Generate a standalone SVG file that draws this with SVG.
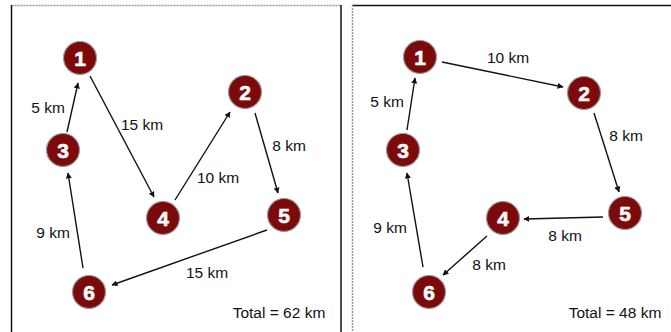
<svg xmlns="http://www.w3.org/2000/svg" width="671" height="332" viewBox="0 0 671 332">
<style>
.node circle{fill:#7d0a0a;stroke:#9a9a9a;stroke-width:1.2}
.node text{font-family:"Liberation Sans",Arial,sans-serif;font-weight:bold;font-size:21px;fill:#fff;stroke:#fff;stroke-width:0.6;text-anchor:middle}
.lbl{font-family:"Liberation Sans",Arial,sans-serif;font-size:15.5px;fill:#111;text-anchor:middle}
.edge{stroke:#111;stroke-width:1.4;fill:none;marker-end:url(#ah)}
</style>
<defs>
<marker id="ah" viewBox="0 0 10 10" refX="9" refY="5" markerWidth="6" markerHeight="6" markerUnits="userSpaceOnUse" orient="auto">
<path d="M0,0 L10,5 L0,10 z" fill="#111"/>
</marker>
</defs>
<rect width="671" height="332" fill="#fff"/>
<g id="frames">
<line x1="11.5" y1="5.5" x2="341" y2="5.5" stroke="#999" stroke-width="1.5" stroke-dasharray="2,1"/>
<line x1="11.5" y1="5" x2="11.5" y2="332" stroke="#111" stroke-width="1.5"/>
<line x1="341" y1="5" x2="341" y2="332" stroke="#111" stroke-width="1.5"/>
<line x1="352" y1="5.5" x2="671" y2="5.5" stroke="#111" stroke-width="1.5"/>
<line x1="352.5" y1="5" x2="352.5" y2="332" stroke="#999" stroke-width="1.5" stroke-dasharray="2,1"/>
</g>
<g id="connectors">
<line class="edge" x1="67" y1="132" x2="78" y2="83"/>
<line class="edge" x1="90" y1="76" x2="154" y2="197"/>
<line class="edge" x1="175" y1="200" x2="230" y2="112"/>
<line class="edge" x1="255" y1="113" x2="278" y2="193"/>
<line class="edge" x1="267" y1="230" x2="112" y2="285"/>
<line class="edge" x1="83" y1="268" x2="68" y2="173"/>
<line class="edge" x1="442" y1="62" x2="563" y2="87"/>
<line class="edge" x1="594" y1="113" x2="619" y2="192"/>
<line class="edge" x1="603" y1="217" x2="524" y2="219"/>
<line class="edge" x1="487" y1="236" x2="443" y2="275"/>
<line class="edge" x1="423" y1="267" x2="407" y2="173"/>
<line class="edge" x1="407" y1="130" x2="415" y2="78"/>
</g>
<g id="labels">
<text class="lbl" x="48" y="113">5 km</text>
<text class="lbl" x="142" y="130">15 km</text>
<text class="lbl" x="218" y="183">10 km</text>
<text class="lbl" x="289" y="151">8 km</text>
<text class="lbl" x="53" y="238">9 km</text>
<text class="lbl" x="207" y="278">15 km</text>
<text class="lbl" x="279" y="318">Total = 62 km</text>
<text class="lbl" x="508" y="63">10 km</text>
<text class="lbl" x="387" y="107">5 km</text>
<text class="lbl" x="626" y="141">8 km</text>
<text class="lbl" x="390" y="233">9 km</text>
<text class="lbl" x="565" y="241">8 km</text>
<text class="lbl" x="489" y="270">8 km</text>
<text class="lbl" x="615" y="318">Total = 48 km</text>
</g>
<g id="L1" class="node"><circle cx="80" cy="58" r="16.5"/><text x="80" y="65.5">1</text></g>
<g id="L2" class="node"><circle cx="245" cy="92" r="16.5"/><text x="245" y="99.5">2</text></g>
<g id="L3" class="node"><circle cx="63" cy="150" r="16.5"/><text x="63" y="157.5">3</text></g>
<g id="L4" class="node"><circle cx="163" cy="218" r="16.5"/><text x="163" y="225.5">4</text></g>
<g id="L5" class="node"><circle cx="284" cy="215" r="16.5"/><text x="284" y="222.5">5</text></g>
<g id="L6" class="node"><circle cx="89" cy="292" r="16.5"/><text x="89" y="299.5">6</text></g>
<g id="R1" class="node"><circle cx="420" cy="57" r="16.5"/><text x="420" y="64.5">1</text></g>
<g id="R2" class="node"><circle cx="584" cy="93" r="16.5"/><text x="584" y="100.5">2</text></g>
<g id="R3" class="node"><circle cx="403" cy="150" r="16.5"/><text x="403" y="157.5">3</text></g>
<g id="R4" class="node"><circle cx="503" cy="218" r="16.5"/><text x="503" y="225.5">4</text></g>
<g id="R5" class="node"><circle cx="625" cy="213" r="16.5"/><text x="625" y="220.5">5</text></g>
<g id="R6" class="node"><circle cx="429" cy="292" r="16.5"/><text x="429" y="299.5">6</text></g>
</svg>
